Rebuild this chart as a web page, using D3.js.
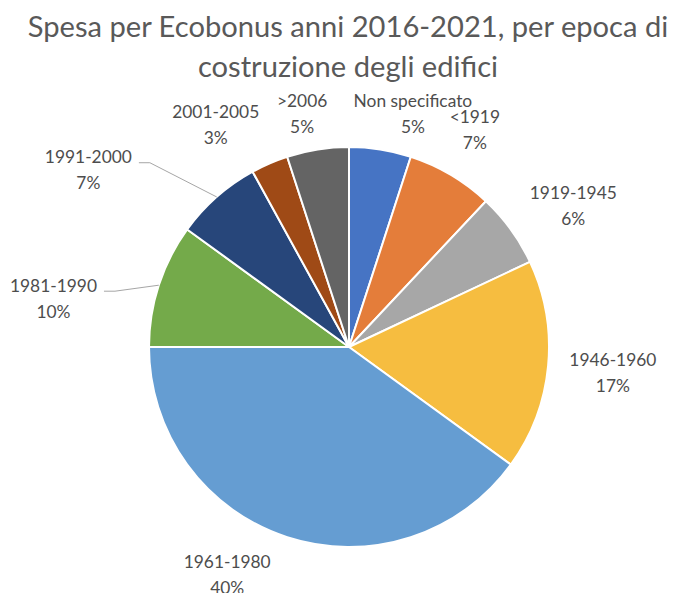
<!DOCTYPE html>
<html>
<head>
<meta charset="utf-8">
<script src="https://cdn.jsdelivr.net/npm/d3@7"></script>
<style>
  html, body { margin: 0; padding: 0; background: #ffffff; }
  svg { display: block; }
</style>
</head>
<body>
<svg id="chart" width="677" height="593"></svg>
<script>
// Ecobonus spending 2016-2021 by building construction period
const categories = ["Non specificato", "<1919", "1919-1945", "1946-1960", "1961-1980",
                    "1981-1990", "1991-2000", "2001-2005", ">2006"];
const shares = [5, 7, 6, 17, 40, 10, 7, 3, 5];
const colors = ["#4674c4", "#e47d3a", "#a7a7a7", "#f6bd40", "#659dd2",
                "#74aa4a", "#27467a", "#9f4a16", "#646464"];
const titleLines = ["Spesa per Ecobonus anni 2016-2021, per epoca di",
                    "costruzione degli edifici"];

const W = 677, H = 593;
const cx = 349, cy = 347, R = 200;
const FONT = "Lato, 'Open Sans', sans-serif";

const svg = d3.select("#chart");

// size a string so its rendered width hits a target width
function fitSize(text, targetWidth, weight) {
  const t = svg.append("text").attr("font-family", FONT).attr("font-size", 100)
    .attr("font-weight", weight || 400).text(text);
  const w = t.node().getComputedTextLength();
  t.remove();
  return 100 * targetWidth / w;
}

// title
const titleSize = fitSize(titleLines[0], 641);
svg.append("g").selectAll("text").data(titleLines).join("text")
  .attr("x", 348)
  .attr("y", (d, i) => 37 + i * 40)
  .attr("text-anchor", "middle")
  .attr("font-family", FONT)
  .attr("font-size", titleSize)
  .attr("fill", "#595959")
  .text(d => d);

// pie
const data = categories.map((c, i) => ({ name: c, value: shares[i], color: colors[i] }));
const pie = d3.pie().value(d => d.value).sort(null);
const arcs = pie(data);
const arc = d3.arc().innerRadius(0).outerRadius(R);

const g = svg.append("g").attr("transform", `translate(${cx},${cy})`);
g.selectAll("path").data(arcs).join("path")
  .attr("d", arc)
  .attr("fill", d => d.data.color)
  .attr("stroke", "#ffffff")
  .attr("stroke-width", 2)
  .attr("stroke-linejoin", "round");

// data labels: placed around an outer ring, nudged to avoid crowding
const labelArc = d3.arc().innerRadius(255).outerRadius(255);
const nudges = [[24, 18], [-4, 2], [18, 8], [10, 2], [-43, -15],
                [-53, 30], [-92, 14], [-32, 12], [-7, 18]];
const withLeader = new Set(["1981-1990", "1991-2000"]);

const labelSize = (fitSize("1946-1960", 81) + fitSize("Non specificato", 127)) / 2;
const lineGap = 26;
const labels = svg.append("g")
  .attr("font-family", FONT)
  .attr("font-size", labelSize)
  .attr("fill", "#4d4d4d")
  .attr("text-anchor", "middle");

arcs.forEach((a, i) => {
  const [px, py] = labelArc.centroid(a);
  const x = cx + px + nudges[i][0];
  const y = cy + py + nudges[i][1];
  const t = labels.append("text").attr("x", x).attr("y", y - lineGap / 2)
    .attr("dominant-baseline", "central");
  t.text(a.data.name);
  labels.append("text").attr("x", x).attr("y", y + lineGap / 2)
    .attr("dominant-baseline", "central")
    .text(a.data.value + "%");

  if (withLeader.has(a.data.name)) {
    const halfW = t.node().getComputedTextLength() / 2;
    const sx = x + halfW + 7, sy = y - lineGap / 2 + 6;
    const mid = (a.startAngle + a.endAngle) / 2;
    const ex = cx + R * Math.sin(mid), ey = cy - R * Math.cos(mid);
    svg.append("path")
      .attr("d", d3.line()([[sx, sy], [sx + 11, sy], [ex, ey]]))
      .attr("fill", "none")
      .attr("stroke", "#a6a6a6")
      .attr("stroke-width", 1);
  }
});
</script>
</body>
</html>
